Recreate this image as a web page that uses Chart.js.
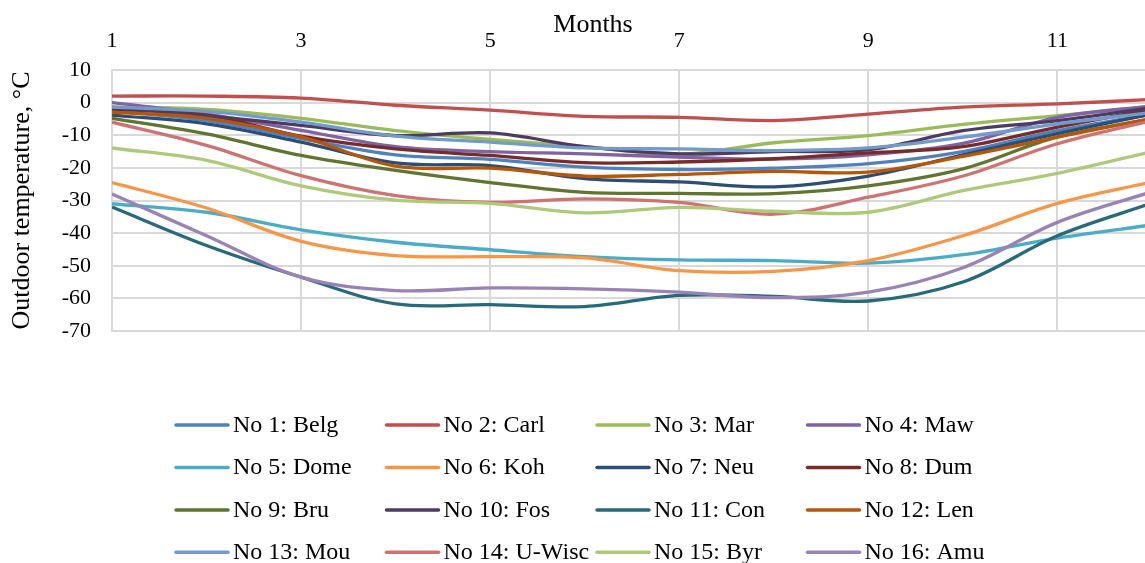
<!DOCTYPE html>
<html>
<head>
<meta charset="utf-8">
<script src="https://cdn.jsdelivr.net/npm/chart.js@4.4.1/dist/chart.umd.min.js"></script>
<style>
  html, body { margin: 0; padding: 0; background: #ffffff; overflow: hidden; }
  #wrap { position: relative; width: 1152px; height: 563px; }
</style>
</head>
<body>
<div id="wrap"><canvas id="c"></canvas></div>
<script>
// ---- data ----
const months = [1, 2, 3, 4, 5, 6, 7, 8, 9, 10, 11, 12];
const xTickValues = [1, 3, 5, 7, 9, 11];
const seriesNames = [
  "No 1: Belg", "No 2: Carl", "No 3: Mar", "No 4: Maw",
  "No 5: Dome", "No 6: Koh", "No 7: Neu", "No 8: Dum",
  "No 9: Bru", "No 10: Fos", "No 11: Con", "No 12: Len",
  "No 13: Mou", "No 14: U-Wisc", "No 15: Byr", "No 16: Amu"
];
const belg  = [-2.5, -5.5, -11, -16, -17.4, -19.8, -20.5, -20.1, -18.7, -15, -8.6, -3.5];
const carl  = [2, 2, 1.4, -0.8, -2.3, -4.2, -4.5, -5.5, -3.5, -1.4, -0.4, 1];
const mar   = [-1.3, -2.1, -4.8, -8.6, -11.3, -13.5, -15.8, -12.3, -10.1, -6.7, -4, -1.2];
const maw   = [0, -3.5, -8.5, -13.5, -15, -15.7, -16.7, -17.3, -16, -12.5, -4.5, -1];
const dome  = [-31, -33.6, -39, -42.8, -45.1, -47.2, -48.2, -48.4, -49.2, -46.6, -41.5, -37.5];
const koh   = [-24.5, -32.3, -42.5, -46.9, -47.2, -47.6, -51.5, -51.7, -48.4, -40.8, -30.9, -24.3];
const neu   = [-3.8, -6.5, -12.1, -18.5, -19.3, -23.3, -24.3, -25.8, -22.5, -16, -9.5, -3.5];
const dum   = [-2, -3.8, -10.3, -14.2, -16.2, -18.4, -18.2, -17.2, -15.4, -13.5, -7.5, -2];
const bru   = [-4.8, -9.6, -16.2, -20.8, -24.5, -27.5, -27.8, -27.9, -25.5, -20.3, -10.5, -5];
const fos   = [-1.5, -4, -7, -10.1, -9.3, -13.5, -15.7, -15, -14.4, -8.6, -5.5, -1.5];
const con   = [-32, -43.8, -53.5, -61.7, -61.9, -62.5, -59.1, -59.4, -60.8, -55, -40.8, -30.8];
const len   = [-2.9, -4.8, -10.5, -19.5, -20.1, -22.5, -22, -21.1, -21.3, -16.5, -10.6, -4.8];
const mou   = [-1.4, -2.7, -6, -10.3, -12.1, -13.9, -14.2, -14.7, -13.9, -10.6, -6.5, -3];
const uwisc = [-6, -13.1, -22.4, -28.5, -30.6, -29.5, -30.6, -34.2, -29, -22.5, -12.6, -5.5];
const byr   = [-13.9, -17.7, -25.5, -29.9, -30.9, -33.8, -32.1, -33.3, -33.6, -27, -21.7, -15];
const amu   = [-28, -40.8, -53.5, -57.6, -56.8, -57.1, -58.1, -59.8, -58.1, -50.6, -36.7, -27.3];

const seriesValues = [belg, carl, mar, maw, dome, koh, neu, dum, bru, fos, con, len, mou, uwisc, byr, amu];
const seriesColors = [
  "#4F81BD", "#C0504D", "#9BBB59", "#8064A2",
  "#4BACC6", "#F79646", "#2C4D75", "#772C2A",
  "#5F7530", "#4D3B62", "#276A7C", "#B65708",
  "#729ACA", "#CD7371", "#AFC97A", "#9983B5"
];
const xTitle = "Months";
const yTitle = "Outdoor temperature, \u00B0C";

const FONT = "'Liberation Serif', 'Times New Roman', serif";

const datasets = seriesValues.map((vals, i) => ({
  label: seriesNames[i],
  data: months.map((m, j) => ({ x: m, y: vals[j] })),
  borderColor: seriesColors[i],
  backgroundColor: seriesColors[i],
  borderWidth: 3.3,
  pointRadius: 0,
  tension: 0.35,
  fill: false,
  order: seriesValues.length - 1 - i
}));

// custom legend (4 columns) + x axis title
const customDraw = {
  id: 'customDraw',
  afterDraw(chart) {
    const ctx = chart.ctx;
    ctx.save();
    ctx.fillStyle = '#000';
    ctx.font = `26px ${FONT}`;
    ctx.textAlign = 'center';
    ctx.textBaseline = 'alphabetic';
    ctx.fillText(xTitle, 593, 32);
    const colX = [175, 385.5, 596, 806.5];
    const rowY = [425, 467.5, 510, 552.3];
    ctx.font = `24px ${FONT}`;
    ctx.textAlign = 'left';
    ctx.textBaseline = 'middle';
    chart.data.datasets.forEach((ds, i) => {
      const cx = colX[i % 4];
      const cy = rowY[Math.floor(i / 4)];
      ctx.strokeStyle = ds.borderColor;
      ctx.lineWidth = 3.5;
      ctx.lineCap = 'round';
      ctx.beginPath();
      ctx.moveTo(cx + 1, cy);
      ctx.lineTo(cx + 53, cy);
      ctx.stroke();
      ctx.fillStyle = '#000';
      ctx.fillText(ds.label, cx + 58, cy + 0.5);
    });
    ctx.restore();
  }
};

new Chart(document.getElementById('c'), {
  type: 'line',
  data: { datasets },
  options: {
    responsive: true,
    maintainAspectRatio: false,
    animation: false,
    layout: { padding: { left: 0, right: 0, top: 0, bottom: 232 } },
    plugins: { legend: { display: false }, tooltip: { enabled: false } },
    scales: {
      x: {
        type: 'linear',
        position: 'top',
        min: 1,
        max: 12,
        afterBuildTicks: (s) => { s.ticks = xTickValues.map(v => ({ value: v })); },
        afterFit: (s) => { s.height = 70; },
        grid: { color: '#D9D9D9', lineWidth: 2, drawTicks: false },
        border: { color: '#D9D9D9', width: 2 },
        ticks: {
          color: '#000',
          font: { family: FONT, size: 22 },
          padding: 16,
          maxRotation: 0,
          autoSkip: false
        },
        title: { display: false }
      },
      y: {
        min: -70,
        max: 10,
        afterFit: (s) => { s.width = 112; },
        grid: { color: '#D9D9D9', lineWidth: 2, drawTicks: false },
        border: { color: '#D9D9D9', width: 2 },
        ticks: {
          stepSize: 10,
          color: '#000',
          font: { family: FONT, size: 22 },
          padding: 21
        },
        title: {
          display: true,
          text: yTitle,
          color: '#000',
          font: { family: FONT, size: 26 },
          padding: { top: 7, bottom: 0 }
        }
      }
    }
  },
  plugins: [customDraw]
});
</script>
</body>
</html>
